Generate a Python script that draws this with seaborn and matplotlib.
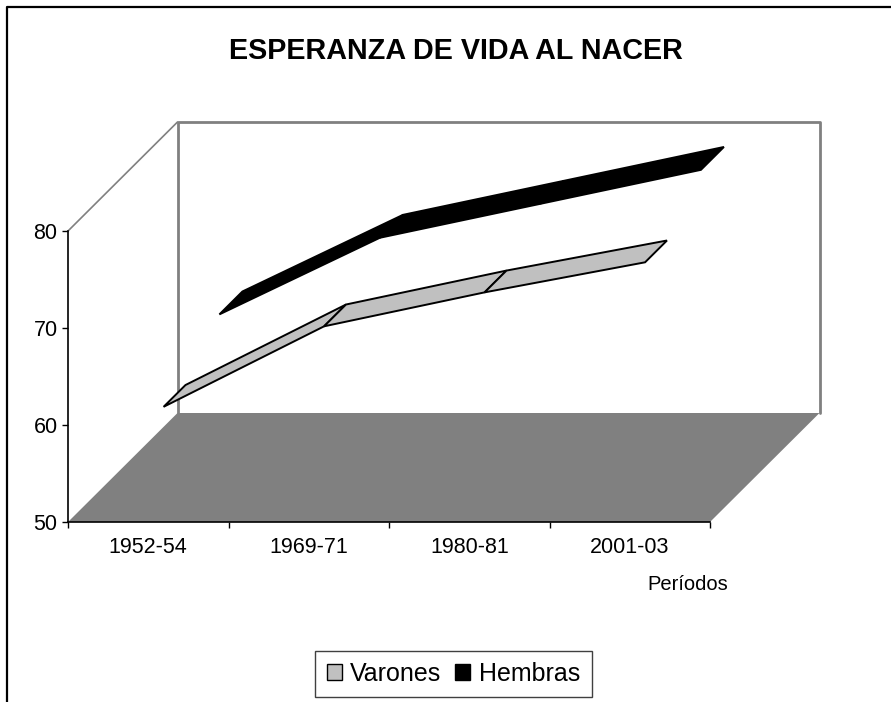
import numpy as np
import pandas as pd
import seaborn as sns
import matplotlib.pyplot as plt
from matplotlib.lines import Line2D
from matplotlib.patches import Patch

# Data
periodos = ['1952-54', '1969-71', '1980-81', '2001-03']
varones = [60.3, 68.6, 72.1, 75.2]
hembras = [64.1, 72.0, 75.5, 79.0]
y_ticks = [50, 60, 70, 80]

sns.set_theme(style='white')
plt.rcParams['font.family'] = ['Liberation Sans', 'DejaVu Sans']

W, H = 891, 702
fig = plt.figure(figsize=(W / 100, H / 100), dpi=100)
ax = fig.add_axes([68 / W, 1 - 522 / H, 642 / W, 291 / H])

# 3D look: how far the back wall sits from the front plane, in data units
DX = 109.5 / 160.5
DY = 109 / 9.7
GRIS = '#808080'


def proyecta(i, valor, prof):
    return i + 0.5 + prof * DX, valor + prof * DY


def cinta(valores, p0, p1, relleno):
    df = pd.DataFrame({'v': valores})
    for i in range(len(df) - 1):
        a, b = df.v[i], df.v[i + 1]
        pts = [proyecta(i, a, p0), proyecta(i + 1, b, p0),
               proyecta(i + 1, b, p1), proyecta(i, a, p1)]
        xs, ys = zip(*pts)
        ax.fill(xs, ys, facecolor=relleno, edgecolor='black', lw=1.4,
                joinstyle='miter', clip_on=False, zorder=4)


# floor and walls
ax.fill([0, 4, 4 + DX, DX], [50, 50, 50 + DY, 50 + DY], color=GRIS, lw=0, clip_on=False, zorder=1)
sns.lineplot(x=[DX, DX, 4 + DX, 4 + DX], y=[50 + DY, 80 + DY, 80 + DY, 50 + DY], sort=False,
             estimator=None, color=GRIS, lw=2, ax=ax, clip_on=False, zorder=2)
sns.lineplot(x=[0, DX], y=[80, 80 + DY], sort=False, estimator=None, color=GRIS, lw=1.2,
             ax=ax, clip_on=False, zorder=2)

cinta(varones, 0.14, 0.34, '#C0C0C0')
cinta(hembras, 0.65, 0.86, 'black')

ax.set_xlim(0, 4)
ax.set_ylim(50, 80)
ax.set_xlabel('')
ax.set_ylabel('')
sns.despine(ax=ax)
for lado in ['left', 'bottom']:
    ax.spines[lado].set_color('black')
    ax.spines[lado].set_linewidth(1.2)
    ax.spines[lado].set_zorder(3)

ax.set_yticks(y_ticks)
ax.set_xticks(range(5))
ax.set_xticklabels([])
ax.set_xticks(np.arange(4) + 0.5, labels=periodos, minor=True)
ax.tick_params(axis='both', which='major', length=4.5, width=1, color='black', left=True, bottom=True,
               labelsize=15.5, labelcolor='black', pad=3)
ax.tick_params(axis='x', which='minor', length=0, labelsize=15.5, labelcolor='black', pad=11)

fig.text(647 / W, 1 - 585 / H, 'Períodos', fontsize=14.5, color='black', va='center', ha='left')
fig.text(456 / W, 1 - 51 / H, 'ESPERANZA DE VIDA AL NACER', fontsize=20.7, fontweight='bold',
         color='black', va='center', ha='center')

handles = [Patch(facecolor='#C0C0C0', edgecolor='black', label='Varones'),
           Patch(facecolor='black', edgecolor='black', label='Hembras')]
fig.legend(handles=handles, ncol=2, loc='center', bbox_to_anchor=(453.5 / W, 1 - 674 / H), fontsize=18,
           frameon=True, fancybox=False, framealpha=1, edgecolor='#404040', handlelength=0.6,
           handleheight=0.6, handletextpad=0.35, columnspacing=0.55, labelcolor='black',
           borderpad=0.45)

# outer chart border, only left and top fall inside the picture
fig.add_artist(Line2D([7.3 / W, 7.3 / W, 1], [0, 1 - 6.7 / H, 1 - 6.7 / H], color='black', lw=1.6))

fig.savefig('out.png', dpi=100)
